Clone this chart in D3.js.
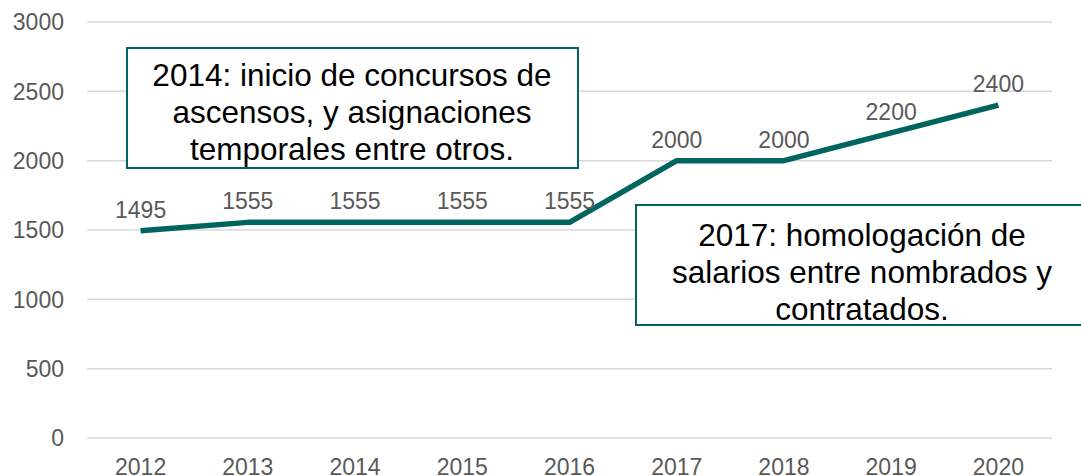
<!DOCTYPE html>
<html lang="es">
<head>
    <meta charset="UTF-8">
    <title>Evolución 2012-2020</title>
    <script src="https://cdn.jsdelivr.net/npm/d3@7/dist/d3.min.js"></script>
    <style>
        body{ margin:0; background:#fff; }
        text{ font-family: "Liberation Sans", Arial, sans-serif; }
        .grid line{ stroke:#d9d9d9; stroke-width:1.5px; }
        .tick-label{ fill:#595959; font-size:23px; }
        path.serie{ fill:none; stroke:#006560; stroke-width:5.5px; stroke-linejoin:round; }
        rect.nota{ fill:#fff; stroke:#006560; stroke-width:2px; }
        .nota-text{ fill:#000; font-size:31.5px; }
    </style>
</head>
<body>
<svg id="main" width="1081" height="476"></svg>
<script>
    // data
    let years = ['2012','2013','2014','2015','2016','2017','2018','2019','2020'];
    let values = [1495, 1555, 1555, 1555, 1555, 2000, 2000, 2200, 2400];
    let yTicks = [0, 500, 1000, 1500, 2000, 2500, 3000];
    let note1 = ['2014: inicio de concursos de', 'ascensos, y asignaciones', 'temporales entre otros.'];
    let note2 = ['2017: homologación de', 'salarios entre nombrados y', 'contratados.'];

    let svg = d3.select('svg#main');
    let plot = {left:87, right:1052, top:22, bottom:438};

    let xScale = d3.scaleBand().domain(years).range([plot.left, plot.right]);
    let yScale = d3.scaleLinear().domain([0, 3000]).range([plot.bottom, plot.top]);
    let xc = function(d){ return xScale(d) + xScale.bandwidth()/2; };

    // gridlines
    svg.append('g').attr('class','grid')
        .selectAll('line').data(yTicks).join('line')
        .attr('x1', plot.left).attr('x2', plot.right)
        .attr('y1', d => yScale(d)).attr('y2', d => yScale(d));

    // y labels
    svg.append('g').selectAll('text').data(yTicks).join('text')
        .attr('class','tick-label')
        .attr('x', 64).attr('y', d => yScale(d)).attr('dy','0.36em')
        .attr('text-anchor','end')
        .text(d => d);

    // x labels
    svg.append('g').selectAll('text').data(years).join('text')
        .attr('class','tick-label')
        .attr('x', d => xc(d)).attr('y', 475)
        .attr('text-anchor','middle')
        .text(d => d);

    // line
    let line = d3.line()
        .x((d,i) => xc(years[i]))
        .y(d => yScale(d));
    svg.append('path').attr('class','serie').attr('d', line(values));

    // data labels
    svg.append('g').selectAll('text').data(values).join('text')
        .attr('class','tick-label')
        .attr('x', (d,i) => xc(years[i]))
        .attr('y', d => yScale(d) - 13)
        .attr('text-anchor','middle')
        .text(d => d);

    // annotation boxes
    function nota(lines, x, y, w, h, cx, firstBase){
        let g = svg.append('g');
        g.append('rect').attr('class','nota')
            .attr('x', x).attr('y', y).attr('width', w).attr('height', h);
        g.selectAll('text').data(lines).join('text')
            .attr('class','nota-text')
            .attr('x', cx).attr('y', (d,i) => firstBase + i*37)
            .attr('text-anchor','middle')
            .text(d => d);
    }
    nota(note1, 127, 48, 451, 120, 352, 86);
    nota(note2, 636, 205, 460, 120, 862, 246);
</script>
</body>
</html>
